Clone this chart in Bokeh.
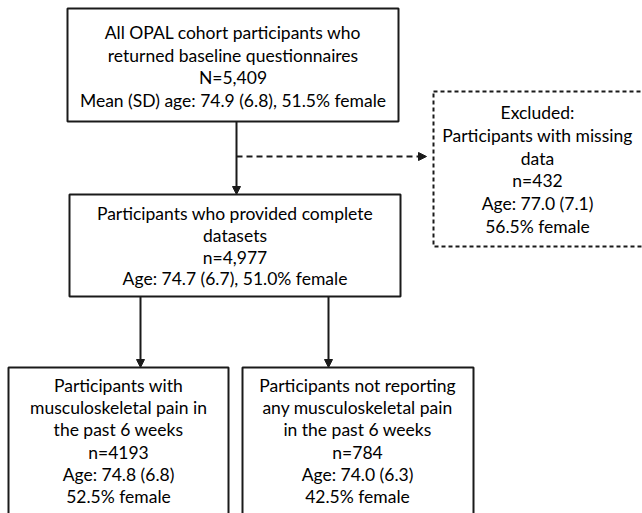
from bokeh.plotting import figure
from bokeh.models import Range1d, Arrow, NormalHead, ColumnDataSource
from bokeh.core.properties import value
from bokeh.embed import file_html
from bokeh.resources import INLINE

# ---- data (text content of the flowchart) ----
top_lines = ["All OPAL cohort participants who",
             "returned baseline questionnaires",
             "N=5,409",
             "Mean (SD) age: 74.9 (6.8), 51.5% female"]
complete_lines = ["Participants who provided complete",
                  "datasets",
                  "n=4,977",
                  "Age: 74.7 (6.7), 51.0% female"]
excluded_lines = ["Excluded:",
                  "Participants with missing",
                  "data",
                  "n=432",
                  "Age: 77.0 (7.1)",
                  "56.5% female"]
pain_lines = ["Participants with",
              "musculoskeletal pain in",
              "the past 6 weeks",
              "n=4193",
              "Age: 74.8 (6.8)",
              "52.5% female"]
nopain_lines = ["Participants not reporting",
                "any musculoskeletal pain",
                "in the past 6 weeks",
                "n=784",
                "Age: 74.0 (6.3)",
                "42.5% female"]

# ---- layout (pixel-like coordinates, y downwards) ----
p = figure(width=642, height=513, output_backend="svg", toolbar_location=None,
           x_range=Range1d(0, 642), y_range=Range1d(513, 0),
           min_border=0)
p.axis.visible = False
p.grid.visible = False
p.outline_line_color = None
p.background_fill_color = "white"

FONT = value("Lato")
FS = "17.5px"
INK = "#000000"

def box(l, r, t, b, dash="solid"):
    p.quad(left=[l], right=[r], top=[t], bottom=[b], fill_color="white",
           line_color="#1a1a1a", line_width=2, line_dash=dash)

def lines(cx, first_y, step, texts):
    ys = [first_y + i * step for i in range(len(texts))]
    src = ColumnDataSource(dict(x=[cx] * len(texts), y=ys, t=texts))
    p.text(x="x", y="y", text="t", source=src, text_align="center",
           text_baseline="middle", text_font=FONT, text_font_size=FS,
           text_font_style="normal", text_color=INK)

box(67, 398, 8, 121)
lines(232.5, 32, 22.5, top_lines)

box(69, 400, 194, 296)
lines(234.5, 213, 21.8, complete_lines)

box(433, 645, 91, 246, dash="4 3")
lines(537, 112, 22.8, excluded_lines)

box(8, 228, 367, 530)
lines(118, 385, 22.2, pain_lines)

box(242, 473, 367, 530)
lines(357, 385, 22.2, nopain_lines)

def arrow(x0, y0, x1, y1, dash="solid"):
    p.add_layout(Arrow(end=NormalHead(size=8, fill_color="#1a1a1a", line_color="#1a1a1a", line_width=1),
                       x_start=x0, y_start=y0, x_end=x1, y_end=y1,
                       line_color="#1a1a1a", line_width=2, line_dash=dash))

arrow(236, 121, 236, 194)
arrow(236, 156, 426, 156, dash="6 4")
arrow(140, 296, 140, 367)
arrow(328, 296, 328, 367)

open("out.html", "w").write(file_html(p, INLINE))
